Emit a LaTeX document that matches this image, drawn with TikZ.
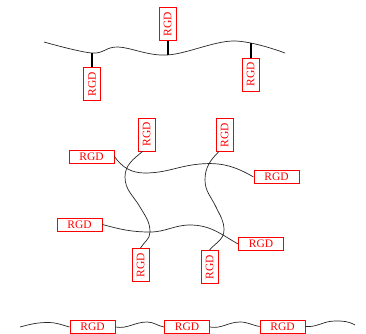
\documentclass[tikz,border=0pt]{standalone}
\usepackage{fontspec}
\setmainfont{Liberation Serif}
\begin{document}
\begin{tikzpicture}[x=1pt,y=1pt,
  hbox/.style={draw=red,text=red,line width=0.9pt,minimum width=45pt,minimum height=13pt,inner sep=0pt,font=\fontsize{11.5}{13}\selectfont},
  vbox/.style={hbox,rotate=90,minimum width=33pt,minimum height=17pt},
  strand/.style={line width=0.7pt,black!85},
  stem/.style={line width=2pt}]
\useasboundingbox (0,0) rectangle (366,-333);

% ---------- top ----------
\draw[strand] plot[smooth,tension=0.6] coordinates {(44,-42) (92,-53) (118,-47) (167,-55) (233,-41) (285,-53)};
\node[vbox] (t1) at (92,-84) {RGD};
\node[vbox] (t2) at (167.5,-24) {RGD};
\node[vbox] (t3) at (250.5,-74.5) {RGD};
\coordinate (s1) at (92,-53);
\coordinate (s2) at (167.5,-55);
\coordinate (s3) at (250.5,-43);
\draw[stem] (s1) -- (t1.east);
\draw[stem] (t2.west) -- (s2);
\draw[stem] (s3) -- (t3.east);

% ---------- middle ----------
\node[vbox] (A) at (146.5,-134.5) {RGD};
\node[vbox] (B) at (224.5,-135) {RGD};
\node[hbox] (C) at (91.5,-156.5) {RGD};
\node[hbox] (D) at (276.5,-177) {RGD};
\node[hbox] (E) at (79.5,-224.5) {RGD};
\node[hbox] (F) at (261,-244) {RGD};
\node[vbox] (G) at (140.5,-265) {RGD};
\node[vbox] (H) at (209.5,-267) {RGD};

\draw[strand] (C.east) to[out=-55,in=180] (145,-173) to[out=0,in=185] (200,-164) to[out=5,in=150] (D.west);
\draw[strand] ([xshift=-4pt]A.west) to[out=220,in=90] (125,-177) to[out=-90,in=120] (140,-207) to[out=-60,in=90] (150,-232) to[out=-90,in=60] (G.east);
\draw[strand] ([xshift=-6pt]B.west) to[out=225,in=90] (205,-180) to[out=-90,in=115] (216,-207) to[out=-65,in=90] (224,-230) to[out=-90,in=50] (H.east);
\draw[strand] (E.east) to[out=-15,in=180] (150,-232) to[out=0,in=180] (190,-225) to[out=0,in=150] (F.west);

% ---------- bottom ----------
\node[hbox] (b1) at (92.5,-327) {RGD};
\node[hbox] (b2) at (187,-327) {RGD};
\node[hbox] (b3) at (282.5,-326.5) {RGD};
\coordinate (l0) at (20,-327);
\coordinate (r0) at (355,-325);
\draw[strand] (l0) to[out=15,in=180] (48,-322.5) to[out=0,in=165] (b1.west);
\draw[strand] (b1.east) to[out=-10,in=180] (147,-322) to[out=0,in=170] (b2.west);
\draw[strand] (b2.east) to[out=-10,in=180] (240,-322) to[out=0,in=170] (b3.west);
\draw[strand] (b3.east) to[out=-5,in=180] (335,-321) to[out=0,in=150] (r0);
\end{tikzpicture}
\end{document}
